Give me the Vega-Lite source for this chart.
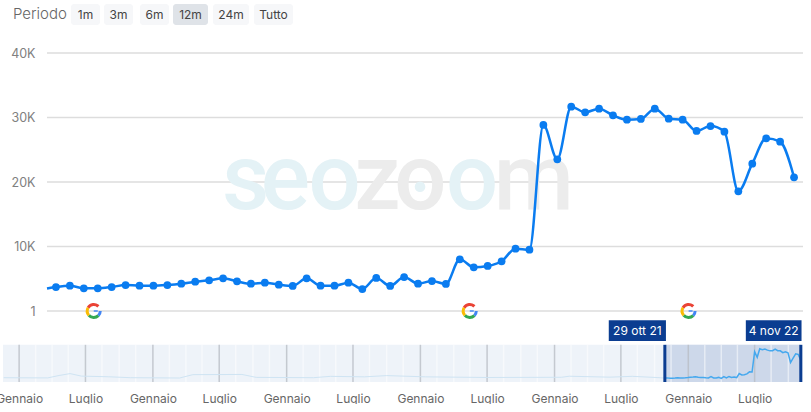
{
  "$schema": "https://vega.github.io/schema/vega-lite/v6.json",
  "padding": {"left": -5, "top": 0, "right": 0, "bottom": 0},
  "background": "white",
  "bounds": "flush",
  "spacing": 8,
  "config": {"view": {"stroke": null}, "font": "Inter"},
  "datasets": {
    "weekly": [
      {"date": "2021-10-24T12:00:00Z", "visits": 3490},
      {"date": "2021-10-29T00:00:00Z", "visits": 3720},
      {"date": "2021-11-05T00:00:00Z", "visits": 3920},
      {"date": "2021-11-12T00:00:00Z", "visits": 3520},
      {"date": "2021-11-19T00:00:00Z", "visits": 3520},
      {"date": "2021-11-26T00:00:00Z", "visits": 3720},
      {"date": "2021-12-03T00:00:00Z", "visits": 4030},
      {"date": "2021-12-10T00:00:00Z", "visits": 3920},
      {"date": "2021-12-17T00:00:00Z", "visits": 3920},
      {"date": "2021-12-24T00:00:00Z", "visits": 4030},
      {"date": "2021-12-31T00:00:00Z", "visits": 4230},
      {"date": "2022-01-07T00:00:00Z", "visits": 4540},
      {"date": "2022-01-14T00:00:00Z", "visits": 4760},
      {"date": "2022-01-21T00:00:00Z", "visits": 5070},
      {"date": "2022-01-28T00:00:00Z", "visits": 4600},
      {"date": "2022-02-04T00:00:00Z", "visits": 4230},
      {"date": "2022-02-11T00:00:00Z", "visits": 4390},
      {"date": "2022-02-18T00:00:00Z", "visits": 4080},
      {"date": "2022-02-25T00:00:00Z", "visits": 3880},
      {"date": "2022-03-04T00:00:00Z", "visits": 5070},
      {"date": "2022-03-11T00:00:00Z", "visits": 3920},
      {"date": "2022-03-18T00:00:00Z", "visits": 3920},
      {"date": "2022-03-25T00:00:00Z", "visits": 4390},
      {"date": "2022-04-01T00:00:00Z", "visits": 3410},
      {"date": "2022-04-08T00:00:00Z", "visits": 5120},
      {"date": "2022-04-15T00:00:00Z", "visits": 3880},
      {"date": "2022-04-22T00:00:00Z", "visits": 5270},
      {"date": "2022-04-29T00:00:00Z", "visits": 4230},
      {"date": "2022-05-06T00:00:00Z", "visits": 4650},
      {"date": "2022-05-13T00:00:00Z", "visits": 4190},
      {"date": "2022-05-20T00:00:00Z", "visits": 8020},
      {"date": "2022-05-27T00:00:00Z", "visits": 6780},
      {"date": "2022-06-03T00:00:00Z", "visits": 6980},
      {"date": "2022-06-10T00:00:00Z", "visits": 7710},
      {"date": "2022-06-17T00:00:00Z", "visits": 9660},
      {"date": "2022-06-24T00:00:00Z", "visits": 9500},
      {"date": "2022-07-01T00:00:00Z", "visits": 28840},
      {"date": "2022-07-08T00:00:00Z", "visits": 23520},
      {"date": "2022-07-15T00:00:00Z", "visits": 31680},
      {"date": "2022-07-22T00:00:00Z", "visits": 30810},
      {"date": "2022-07-29T00:00:00Z", "visits": 31370},
      {"date": "2022-08-05T00:00:00Z", "visits": 30340},
      {"date": "2022-08-12T00:00:00Z", "visits": 29660},
      {"date": "2022-08-19T00:00:00Z", "visits": 29770},
      {"date": "2022-08-26T00:00:00Z", "visits": 31370},
      {"date": "2022-09-02T00:00:00Z", "visits": 29820},
      {"date": "2022-09-09T00:00:00Z", "visits": 29660},
      {"date": "2022-09-16T00:00:00Z", "visits": 27910},
      {"date": "2022-09-23T00:00:00Z", "visits": 28680},
      {"date": "2022-09-30T00:00:00Z", "visits": 27800},
      {"date": "2022-10-07T00:00:00Z", "visits": 18560},
      {"date": "2022-10-14T00:00:00Z", "visits": 22840},
      {"date": "2022-10-21T00:00:00Z", "visits": 26780},
      {"date": "2022-10-28T00:00:00Z", "visits": 26250},
      {"date": "2022-11-04T00:00:00Z", "visits": 20730}
    ],
    "history": [
      {"date": "2016-11-20T00:00:00Z", "visits": 4100},
      {"date": "2017-01-01T00:00:00Z", "visits": 4000},
      {"date": "2017-03-20T00:00:00Z", "visits": 3900},
      {"date": "2017-04-20T00:00:00Z", "visits": 6200},
      {"date": "2017-05-20T00:00:00Z", "visits": 8000},
      {"date": "2017-06-20T00:00:00Z", "visits": 5600},
      {"date": "2017-09-01T00:00:00Z", "visits": 5000},
      {"date": "2017-11-01T00:00:00Z", "visits": 4100},
      {"date": "2018-03-15T00:00:00Z", "visits": 3800},
      {"date": "2018-04-20T00:00:00Z", "visits": 7000},
      {"date": "2018-09-01T00:00:00Z", "visits": 7200},
      {"date": "2018-10-10T00:00:00Z", "visits": 4400},
      {"date": "2019-03-15T00:00:00Z", "visits": 4100},
      {"date": "2019-05-01T00:00:00Z", "visits": 5400},
      {"date": "2019-08-01T00:00:00Z", "visits": 4900},
      {"date": "2019-10-01T00:00:00Z", "visits": 6100},
      {"date": "2020-01-15T00:00:00Z", "visits": 4900},
      {"date": "2020-07-01T00:00:00Z", "visits": 4300},
      {"date": "2021-01-20T00:00:00Z", "visits": 4500},
      {"date": "2021-02-10T00:00:00Z", "visits": 5500},
      {"date": "2021-06-01T00:00:00Z", "visits": 4600},
      {"date": "2021-08-01T00:00:00Z", "visits": 5400},
      {"date": "2021-10-10T00:00:00Z", "visits": 4200},
      {"date": "2021-10-29T00:00:00Z", "visits": 3720}
    ],
    "updates": [
      {"date": "2021-11-17T00:00:00Z", "visits": 0},
      {"date": "2022-05-25T00:00:00Z", "visits": 0},
      {"date": "2022-09-12T00:00:00Z", "visits": 0}
    ],
    "watermark": [
      {"date": "2022-01-20T12:00:00Z", "visits": 15800, "text": "s", "tone": "blue"},
      {"date": "2022-02-09T00:00:00Z", "visits": 15800, "text": "e", "tone": "blue"},
      {"date": "2022-03-05T00:00:00Z", "visits": 15800, "text": "o", "tone": "blue"},
      {"date": "2022-03-28T00:00:00Z", "visits": 15800, "text": "z", "tone": "grey"},
      {"date": "2022-04-17T00:00:00Z", "visits": 15800, "text": "o", "tone": "grey"},
      {"date": "2022-05-13T00:00:00Z", "visits": 15800, "text": "o", "tone": "blue"},
      {"date": "2022-06-06T00:00:00Z", "visits": 15800, "text": "m", "tone": "grey"}
    ],
    "watermarkDot": [{"date": "2022-04-30T00:00:00Z", "visits": 19270}],
    "gridlines": [
      {"visits": 0, "from": "2021-10-24T12:00:00Z", "to": "2022-11-08T12:00:00Z"},
      {"visits": 10000, "from": "2021-10-24T12:00:00Z", "to": "2022-11-08T12:00:00Z"},
      {"visits": 20000, "from": "2021-10-24T12:00:00Z", "to": "2022-11-08T12:00:00Z"},
      {"visits": 30000, "from": "2021-10-24T12:00:00Z", "to": "2022-11-08T12:00:00Z"},
      {"visits": 40000, "from": "2021-10-24T12:00:00Z", "to": "2022-11-08T12:00:00Z"}
    ],
    "buttons": [
      {"label": "1m", "start": 68, "end": 97, "mid": 82.5, "selected": false},
      {"label": "3m", "start": 101, "end": 130, "mid": 115.5, "selected": false},
      {"label": "6m", "start": 137, "end": 166, "mid": 151.5, "selected": false},
      {"label": "12m", "start": 170, "end": 205, "mid": 187.5, "selected": true},
      {"label": "24m", "start": 210, "end": 246, "mid": 228, "selected": false},
      {"label": "Tutto", "start": 251, "end": 290, "mid": 270.5, "selected": false}
    ],
    "years": [
      {"date": "2017-01-01T00:00:00Z"}, {"date": "2017-07-01T00:00:00Z"},
      {"date": "2018-01-01T00:00:00Z"}, {"date": "2018-07-01T00:00:00Z"},
      {"date": "2019-01-01T00:00:00Z"}, {"date": "2019-07-01T00:00:00Z"},
      {"date": "2020-01-01T00:00:00Z"}, {"date": "2020-07-01T00:00:00Z"},
      {"date": "2021-01-01T00:00:00Z"}, {"date": "2021-07-01T00:00:00Z"},
      {"date": "2022-01-01T00:00:00Z"}, {"date": "2022-07-01T00:00:00Z"}
    ],
    "stripes": [
      {"date": "2017-02-15T00:00:00Z"}, {"date": "2017-04-01T00:00:00Z"}, {"date": "2017-05-15T00:00:00Z"},
      {"date": "2017-08-15T00:00:00Z"}, {"date": "2017-10-01T00:00:00Z"}, {"date": "2017-11-15T00:00:00Z"},
      {"date": "2018-02-15T00:00:00Z"}, {"date": "2018-04-01T00:00:00Z"}, {"date": "2018-05-15T00:00:00Z"},
      {"date": "2018-08-15T00:00:00Z"}, {"date": "2018-10-01T00:00:00Z"}, {"date": "2018-11-15T00:00:00Z"},
      {"date": "2019-02-15T00:00:00Z"}, {"date": "2019-04-01T00:00:00Z"}, {"date": "2019-05-15T00:00:00Z"},
      {"date": "2019-08-15T00:00:00Z"}, {"date": "2019-10-01T00:00:00Z"}, {"date": "2019-11-15T00:00:00Z"},
      {"date": "2020-02-15T00:00:00Z"}, {"date": "2020-04-01T00:00:00Z"}, {"date": "2020-05-15T00:00:00Z"},
      {"date": "2020-08-15T00:00:00Z"}, {"date": "2020-10-01T00:00:00Z"}, {"date": "2020-11-15T00:00:00Z"},
      {"date": "2021-02-15T00:00:00Z"}, {"date": "2021-04-01T00:00:00Z"}, {"date": "2021-05-15T00:00:00Z"},
      {"date": "2021-08-15T00:00:00Z"}, {"date": "2021-10-01T00:00:00Z"}, {"date": "2021-11-15T00:00:00Z"},
      {"date": "2022-02-15T00:00:00Z"}, {"date": "2022-04-01T00:00:00Z"}, {"date": "2022-05-15T00:00:00Z"},
      {"date": "2022-08-15T00:00:00Z"}, {"date": "2022-10-01T00:00:00Z"}
    ],
    "selection": [{"from": "2021-10-29T00:00:00Z", "to": "2022-11-04T00:00:00Z"}],
    "flags": [
      {"from": "2021-05-29T00:00:00Z", "to": "2021-11-01T00:00:00Z", "mid": "2021-08-15T00:00:00Z", "label": "29 ott 21"},
      {"from": "2022-06-07T00:00:00Z", "to": "2022-11-06T00:00:00Z", "mid": "2022-08-22T00:00:00Z", "label": "4 nov 22"}
    ]
  },
  "vconcat": [
    {
      "width": 800,
      "height": 45,
      "data": {"name": "buttons"},
      "layer": [
        {
          "mark": {"type": "rect", "cornerRadius": 3},
          "encoding": {
            "x": {"field": "start", "type": "quantitative", "scale": {"domain": [0, 800]}, "axis": null},
            "x2": {"field": "end"},
            "y": {"datum": 4, "type": "quantitative", "scale": {"domain": [0, 45], "reverse": true}, "axis": null},
            "y2": {"datum": 25},
            "color": {"condition": {"test": "datum.selected", "value": "#dfe3e8"}, "value": "#f6f7f9"}
          }
        },
        {
          "mark": {"type": "text", "fontSize": 12, "color": "#444444", "baseline": "middle"},
          "encoding": {
            "x": {"field": "mid", "type": "quantitative"},
            "y": {"datum": 14.5, "type": "quantitative"},
            "text": {"field": "label"}
          }
        },
        {
          "data": {"values": [{"pos": 10, "label": "Periodo"}]},
          "mark": {"type": "text", "fontSize": 15, "fontWeight": 300, "color": "#666666", "align": "left", "baseline": "middle"},
          "encoding": {
            "x": {"field": "pos", "type": "quantitative"},
            "y": {"datum": 14, "type": "quantitative"},
            "text": {"field": "label"}
          }
        }
      ]
    },
    {
      "width": 800,
      "height": 258,
      "encoding": {
        "x": {
          "field": "date",
          "type": "temporal",
          "scale": {"type": "utc", "domain": ["2021-10-24T12:00:00Z", "2022-11-08T12:00:00Z"], "range": [44, 800]},
          "axis": null
        },
        "y": {
          "field": "visits",
          "type": "quantitative",
          "scale": {"domain": [0, 40000]},
          "axis": {
            "title": null,
            "orient": "left",
            "offset": -32,
            "values": [0, 10000, 20000, 30000, 40000],
            "labelExpr": "datum.value == 0 ? '1' : datum.value / 1000 + 'K'",
            "labelFontSize": 12.5,
            "labelColor": "#808080",
            "labelPadding": 0,
            "domain": false,
            "ticks": false,
            "grid": false
          }
        }
      },
      "layer": [
        {
          "data": {"name": "gridlines"},
          "mark": {"type": "rule", "color": "#dddddd", "strokeWidth": 1.5},
          "encoding": {"x": {"field": "from", "type": "temporal"}, "x2": {"field": "to"}}
        },
        {
          "data": {"name": "watermark"},
          "mark": {"type": "text", "font": "Roboto", "fontSize": 92, "fontWeight": 500, "align": "left", "baseline": "alphabetic"},
          "encoding": {
            "text": {"field": "text"},
            "color": {"field": "tone", "type": "nominal", "scale": {"domain": ["blue", "grey"], "range": ["#e4f2f6", "#ececec"]}, "legend": null}
          }
        },
        {
          "data": {"name": "watermarkDot"},
          "mark": {"type": "point", "filled": true, "opacity": 1, "color": "#e4f2f6", "size": 113}
        },
        {
          "data": {"name": "weekly"},
          "mark": {"type": "line", "color": "#0a7cf0", "strokeWidth": 2.5, "interpolate": "monotone"}
        },
        {
          "data": {"name": "weekly"},
          "transform": [{"filter": "toDate(datum.date) >= toDate('2021-10-29T00:00:00Z')"}],
          "mark": {"type": "point", "filled": true, "opacity": 1, "color": "#0a7cf0", "size": 60}
        },
        {
          "data": {"name": "updates"},
          "mark": {"type": "arc", "theta": -1.05, "theta2": 0.79, "radius": 8, "radius2": 5, "color": "#ea4335"}
        },
        {
          "data": {"name": "updates"},
          "mark": {"type": "arc", "theta": 1.57, "theta2": 2.36, "radius": 8, "radius2": 5, "color": "#4285f4"}
        },
        {
          "data": {"name": "updates"},
          "mark": {"type": "arc", "theta": 2.36, "theta2": 4.0, "radius": 8, "radius2": 5, "color": "#34a853"}
        },
        {
          "data": {"name": "updates"},
          "mark": {"type": "arc", "theta": 4.0, "theta2": 5.24, "radius": 8, "radius2": 5, "color": "#fbbc05"}
        },
        {
          "data": {"name": "updates"},
          "mark": {"type": "point", "shape": "M0,-0.18H1V0.18H0Z", "filled": true, "opacity": 1, "color": "#4285f4", "size": 64}
        }
      ]
    },
    {
      "width": 800,
      "height": 63,
      "layer": [
        {
          "data": {"values": [{"from": "2016-11-18T00:00:00Z", "to": "2022-11-10T00:00:00Z", "low": 0, "high": 35400}]},
          "mark": {"type": "rect", "color": "#eef3f9"},
          "encoding": {
            "x": {
              "field": "from",
              "type": "temporal",
              "scale": {"type": "utc", "domain": ["2016-11-18T00:00:00Z", "2022-11-10T00:00:00Z"]},
              "axis": {
                "title": null,
                "values": ["2017-01-01T00:00:00Z", "2017-07-01T00:00:00Z", "2018-01-01T00:00:00Z", "2018-07-01T00:00:00Z", "2019-01-01T00:00:00Z", "2019-07-01T00:00:00Z", "2020-01-01T00:00:00Z", "2020-07-01T00:00:00Z", "2021-01-01T00:00:00Z", "2021-07-01T00:00:00Z", "2022-01-01T00:00:00Z", "2022-07-01T00:00:00Z"],
                "labelExpr": "utcmonth(datum.value) == 0 ? 'Gennaio' : 'Luglio'",
                "labelFontSize": 12,
                "labelColor": "#666666",
                "labelPadding": 11,
                "labelOverlap": false,
                "labelFlush": false,
                "domain": false,
                "ticks": false,
                "grid": false
              }
            },
            "x2": {"field": "to"},
            "y": {"field": "low", "type": "quantitative", "scale": {"domain": [0, 58716]}, "axis": null},
            "y2": {"field": "high"}
          }
        },
        {
          "data": {"name": "selection"},
          "mark": {"type": "rect", "color": "#cdd8ea"},
          "encoding": {
            "x": {"field": "from", "type": "temporal"},
            "x2": {"field": "to"},
            "y": {"datum": 0, "type": "quantitative"},
            "y2": {"datum": 35400}
          }
        },
        {
          "data": {"name": "stripes"},
          "mark": {"type": "rule", "color": "#ffffff", "strokeWidth": 1.5, "opacity": 0.5},
          "encoding": {
            "x": {"field": "date", "type": "temporal"},
            "y": {"datum": 0, "type": "quantitative"},
            "y2": {"datum": 35400}
          }
        },
        {
          "data": {"name": "years"},
          "mark": {"type": "rule", "color": "#b9bec6", "strokeWidth": 1.5, "opacity": 0.8},
          "encoding": {
            "x": {"field": "date", "type": "temporal"},
            "y": {"datum": 0, "type": "quantitative"},
            "y2": {"datum": 35400}
          }
        },
        {
          "data": {"name": "history"},
          "mark": {"type": "line", "color": "#cfe4f3", "strokeWidth": 1},
          "encoding": {
            "x": {"field": "date", "type": "temporal"},
            "y": {"field": "visits", "type": "quantitative"}
          }
        },
        {
          "data": {"name": "weekly"},
          "transform": [{"filter": "toDate(datum.date) >= toDate('2021-10-29T00:00:00Z')"}],
          "mark": {"type": "line", "color": "#45a8ee", "strokeWidth": 1.5},
          "encoding": {
            "x": {"field": "date", "type": "temporal"},
            "y": {"field": "visits", "type": "quantitative"}
          }
        },
        {
          "data": {"name": "selection"},
          "mark": {"type": "rule", "color": "#0b3d91", "strokeWidth": 3},
          "encoding": {
            "x": {"field": "from", "type": "temporal"},
            "y": {"datum": 0, "type": "quantitative"},
            "y2": {"datum": 35400}
          }
        },
        {
          "data": {"name": "selection"},
          "mark": {"type": "rule", "color": "#0b3d91", "strokeWidth": 3},
          "encoding": {
            "x": {"field": "to", "type": "temporal"},
            "y": {"datum": 0, "type": "quantitative"},
            "y2": {"datum": 35400}
          }
        },
        {
          "data": {"name": "flags"},
          "mark": {"type": "rect", "color": "#0b3d91"},
          "encoding": {
            "x": {"field": "from", "type": "temporal"},
            "x2": {"field": "to"},
            "y": {"datum": 39144, "type": "quantitative"},
            "y2": {"datum": 58716}
          }
        },
        {
          "data": {"name": "flags"},
          "mark": {"type": "text", "color": "#ffffff", "fontSize": 12, "baseline": "middle"},
          "encoding": {
            "x": {"field": "mid", "type": "temporal"},
            "y": {"datum": 48930, "type": "quantitative"},
            "text": {"field": "label"}
          }
        }
      ]
    }
  ]
}
